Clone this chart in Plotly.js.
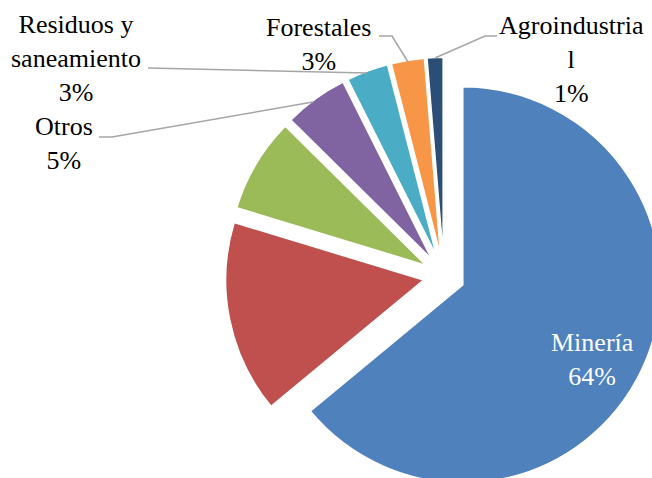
<!DOCTYPE html>
<html>
<head>
<meta charset="utf-8">
<script src="https://cdn.plot.ly/plotly-3.0.1.min.js"></script>
<style>
  html, body { margin: 0; padding: 0; overflow: hidden; background: #fff; width: 652px; height: 478px; }
  #chart { position: absolute; left: 0; top: 0; width: 700px; height: 520px; }
</style>
</head>
<body>
<div id="chart"></div>
<script>
// ---- data ----
const categories = ["Minería", "Categoría A (sin etiqueta)", "Categoría B (sin etiqueta)", "Otros",
                    "Residuos y saneamiento", "Forestales", "Agroindustrial"];
const values = [64.0, 15.7, 7.7, 5.2, 3.4, 2.7, 1.3];
// label text as printed in the chart (wrapped as in the original); empty = no label shown
const labelText = ["Minería", "", "", "Otros", "Residuos y<br>saneamiento", "Forestales", "Agroindustria<br>l"];
const colors = ["#4F81BD", "#C0504D", "#9BBB59", "#8064A2", "#4BACC6", "#F79646", "#2C4D75"];

// ---- layout helpers (pixel -> paper) ----
const W = 700, H = 520;
const px = x => x / W;
const py = y => 1 - y / H;

// pie geometry
const R = 198, pull = 0.105, cx = 444, cy = 276;
const half = R * (1 + pull);

// label placements (pixels, centre of text block) and leader lines
const labelPos = {
  0: {x: 592, y: 359, color: "#FFFFFF"},
  3: {x: 64,  y: 143, color: "#000000"},
  4: {x: 76,  y: 58,  color: "#000000"},
  5: {x: 318, y: 44,  color: "#000000"},
  6: {x: 571, y: 59,  color: "#000000"}
};
const leaders = [
  [[148, 68], [367, 73]],
  [[99, 137], [112, 137], [313, 102]],
  [[379, 36], [392, 36], [408, 62]],
  [[497, 36], [485, 36], [435, 58]]
];

const FONT = "Times New Roman, Liberation Serif, DejaVu Serif, serif";

const total = values.reduce((a, b) => a + b, 0);
const annotations = [];
Object.keys(labelPos).forEach(k => {
  const i = +k;
  const pct = Math.round(values[i] / total * 100) + "%";
  annotations.push({
    x: px(labelPos[k].x), y: py(labelPos[k].y), xref: "paper", yref: "paper",
    xanchor: "center", yanchor: "middle", align: "center", showarrow: false,
    text: labelText[i] + "<br>" + pct,
    font: {family: FONT, size: 26, color: labelPos[k].color}
  });
});

const shapes = leaders.map(pts => ({
  type: "path", xref: "paper", yref: "paper",
  path: pts.map((p, j) => (j ? "L" : "M") + px(p[0]) + "," + py(p[1])).join(" "),
  line: {color: "#A6A6A6", width: 1.5}
}));

const trace = {
  type: "pie",
  labels: categories,
  values: values,
  sort: false,
  direction: "clockwise",
  rotation: 0,
  pull: values.map(() => pull),
  marker: {colors: colors, line: {color: "#FFFFFF", width: 1.5}},
  textinfo: "none",
  hoverinfo: "none",
  showlegend: false,
  domain: {x: [px(cx - half), px(cx + half)], y: [py(cy + half), py(cy - half)]}
};

Plotly.newPlot("chart", [trace], {
  width: W, height: H,
  margin: {l: 0, r: 0, t: 0, b: 0},
  paper_bgcolor: "#FFFFFF",
  font: {family: FONT},
  showlegend: false,
  annotations: annotations,
  shapes: shapes
}, {displayModeBar: false, staticPlot: true});
</script>
</body>
</html>
